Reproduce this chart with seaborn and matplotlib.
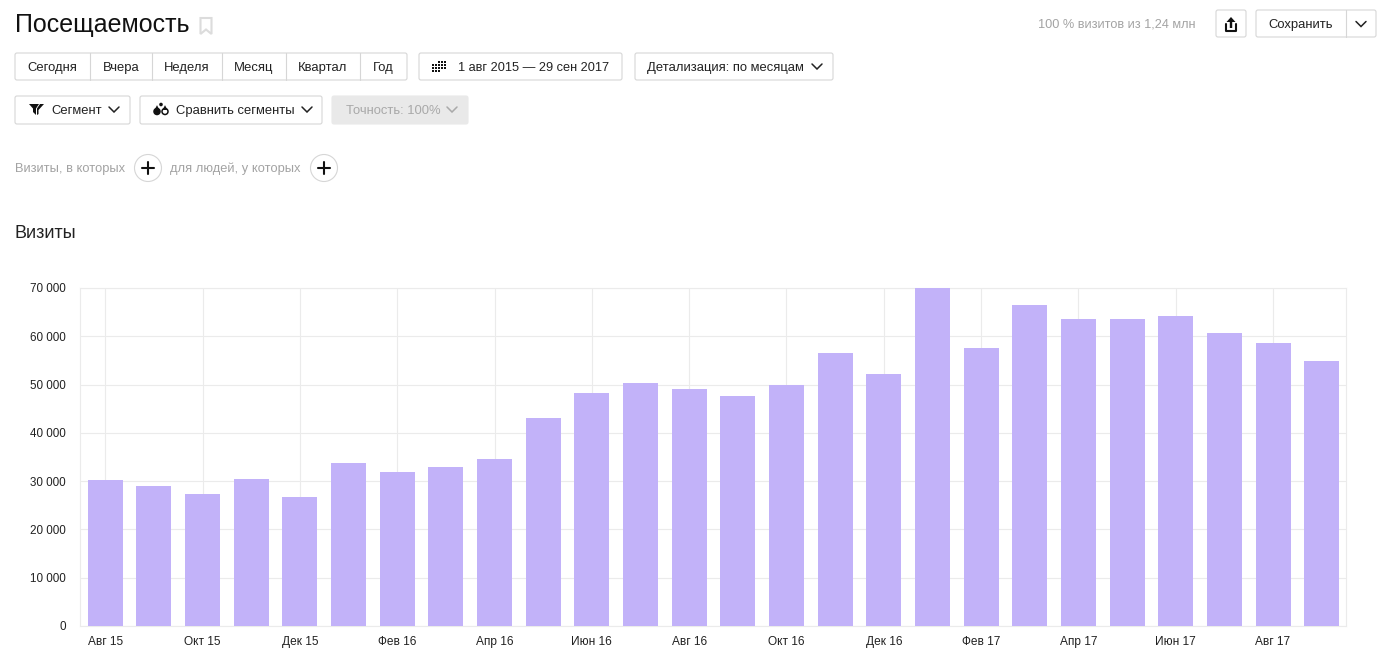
import matplotlib
matplotlib.use("Agg")
import matplotlib.pyplot as plt
from matplotlib.patches import FancyBboxPatch, Circle, Polygon, Rectangle
import pandas as pd
import seaborn as sns

months = ["Авг 15", "Сен 15", "Окт 15", "Ноя 15", "Дек 15", "Янв 16", "Фев 16", "Мар 16", "Апр 16",
          "Май 16", "Июн 16", "Июл 16", "Авг 16", "Сен 16", "Окт 16", "Ноя 16", "Дек 16", "Янв 17",
          "Фев 17", "Мар 17", "Апр 17", "Май 17", "Июн 17", "Июл 17", "Авг 17", "Сен 17"]
visits = [30300, 29000, 27400, 30500, 26800, 33800, 31900, 33000, 34600,
          43100, 48300, 50400, 49100, 47700, 50000, 56600, 52200, 70000,
          57600, 66500, 63600, 63600, 64200, 60700, 58700, 54900]
y_ticks = [0, 10000, 20000, 30000, 40000, 50000, 60000, 70000]
period_buttons = ["Сегодня", "Вчера", "Неделя", "Месяц", "Квартал", "Год"]

W, H = 1388, 649
BAR = "#c2b2f9"
GRID = "#ebebeb"
BORDER = "#d6d6d6"
INK = "#222222"
MUTED = "#a3a3a3"

sns.set_theme(style="white")
plt.rcParams["font.family"] = ["Liberation Sans", "DejaVu Sans"]

fig = plt.figure(figsize=(W / 100, H / 100), dpi=100, facecolor="white")

# Bar chart area
ax = fig.add_axes([80 / W, 1 - 626 / H, (1346 - 80) / W, (626 - 288) / H])
frame = pd.DataFrame({"month": months, "visits": visits})
sns.barplot(data=frame, x="month", y="visits", color=BAR, saturation=1, width=0.72,
            linewidth=0, ax=ax, zorder=3)
ax.set_xlim(-0.52, len(months) - 0.5)
ax.set_ylim(0, 70000)
ax.set_xlabel("")
ax.set_ylabel("")
tick_idx = list(range(0, len(months), 2))
ax.set_xticks(tick_idx)
ax.set_xticklabels([months[i] for i in tick_idx], fontsize=8.6, color=INK)
ax.set_yticks(y_ticks)
ax.set_yticklabels([f"{v:,}".replace(",", " ") for v in y_ticks], fontsize=8.4, color=INK)
ax.tick_params(axis="x", length=0, pad=7)
ax.tick_params(axis="y", length=0, pad=10)
ax.grid(True, color=GRID, linewidth=0.8, zorder=0)
ax.set_axisbelow(True)
for side in ax.spines.values():
    side.set_visible(True)
    side.set_color(GRID)
    side.set_linewidth(0.8)

# Pixel-space layer for the report controls above the chart
ui = fig.add_axes([0, 0, 1, 1], facecolor="none")
ui.set_xlim(0, W)
ui.set_ylim(H, 0)
ui.axis("off")


def button(x0, x1, y0, y1, face="white", edge=BORDER):
    ui.add_patch(FancyBboxPatch((x0 + 1, y0 + 1), x1 - x0 - 2, y1 - y0 - 2,
                                boxstyle="round,pad=1,rounding_size=2",
                                fc=face, ec=edge, lw=0.8))


def label(x, y, s, size=9.4, color=INK, ha="left", **kw):
    ui.text(x, y, s, fontsize=size, color=color, ha=ha, va="center", **kw)


def chevron(cx, cy, color="#222222", w=5, h=5):
    ui.plot([cx - w, cx, cx + w], [cy - h / 2, cy + h / 2, cy - h / 2], color=color, lw=1.1,
            solid_joinstyle="miter")


def plus_button(cx, cy):
    ui.add_patch(Circle((cx, cy), 13.5, fc="white", ec=BORDER, lw=0.8))
    ui.plot([cx - 6, cx + 6], [cy, cy], color="#111111", lw=1.5)
    ui.plot([cx, cx], [cy - 6, cy + 6], color="#111111", lw=1.5)


def drop(cx, cy, r, hollow=False):
    ui.add_patch(Circle((cx, cy), r, fc="white" if hollow else "#111111", ec="#111111", lw=1.1))
    ui.add_patch(Polygon([(cx - r * 0.85, cy - r * 0.5), (cx, cy - r * 2.1), (cx + r * 0.85, cy - r * 0.5)],
                         closed=True, fc="#111111", ec="none"))


# Page heading and bookmark
label(15, 25, "Посещаемость", size=18, color="#111111")
ui.add_patch(Polygon([(200.5, 18), (211.5, 18), (211.5, 34), (206, 29.5), (200.5, 34)],
                     closed=True, fc="white", ec="#dcdcdc", lw=1.5))

# Top-right summary and actions
label(1038, 24.5, "100 % визитов из 1,24 млн", size=9.15, color=MUTED)
button(1216, 1246, 10, 37)
ui.plot([1226, 1226, 1236, 1236], [24, 31, 31, 24], color="#111111", lw=1.5)
ui.add_patch(Polygon([(1231, 17), (1235.5, 22), (1232.2, 22), (1232.2, 28), (1229.8, 28), (1229.8, 22), (1226.5, 22)],
                     closed=True, fc="#111111", ec="none"))
button(1256, 1376, 10, 37)
ui.plot([1346, 1346], [10, 37], color=BORDER, lw=0.8)
label(1301, 25, "Сохранить", ha="center")
chevron(1361, 24)

# Period selector
button(15, 407, 53, 80)
edges = [15, 90, 152, 222, 286, 360, 407]
for x in edges[1:-1]:
    ui.plot([x, x], [53, 80], color=BORDER, lw=0.8)
for name, a, b in zip(period_buttons, edges[:-1], edges[1:]):
    label((a + b) / 2, 67.8, name, ha="center")

# Date range
button(419, 622, 53, 80)
for row, cols in enumerate([range(2, 5), range(0, 5), range(0, 5), range(0, 3)]):
    for col in cols:
        ui.add_patch(Rectangle((432 + col * 2.9, 60.8 + row * 2.9), 2.1, 2.1, fc="#111111", ec="none"))
label(458, 68, "1 авг 2015 — 29 сен 2017", size=9.15)

# Grouping
button(635, 833, 53, 80)
label(647, 67.8, "Детализация: по месяцам")
chevron(817, 66.5)

# Segment controls
button(15, 130, 96, 124)
ui.add_patch(Polygon([(29, 104), (39, 104), (36, 108.5), (36, 115), (33, 112), (33, 108.5)],
                     closed=True, fc="#111111", ec="none"))
ui.add_patch(Polygon([(40, 104), (44, 104), (38.5, 110), (38.5, 114), (37, 115), (37, 108.5)],
                     closed=True, fc="#111111", ec="none"))
label(51, 110.8, "Сегмент")
chevron(114, 109.5)

button(140, 322, 96, 124)
drop(157, 111.5, 3)
drop(165, 111.5, 3, hollow=True)
ui.add_patch(Circle((161, 104.5), 1.8, fc="#111111", ec="none"))
label(176, 110.8, "Сравнить сегменты")
chevron(307, 109.5)

button(332, 468, 96, 124, face="#e9e9e9", edge="#e9e9e9")
label(346, 110.8, "Точность: 100%", color="#a9a9a9")
chevron(452, 109.5, color="#a9a9a9")

# Filters
label(15, 168.8, "Визиты, в которых", size=9.25, color=MUTED)
plus_button(148, 168)
label(170, 168.8, "для людей, у которых", size=9.3, color=MUTED)
plus_button(324, 168)

# Chart heading
label(15, 233.5, "Визиты", size=13, color="#222222")

fig.savefig("out.png", dpi=100, facecolor="white")
